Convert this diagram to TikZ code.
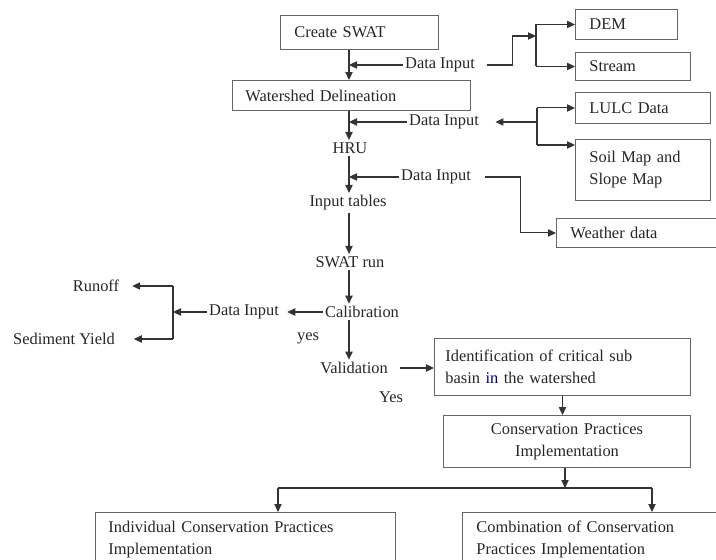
\documentclass[tikz,border=0pt]{standalone}
\usepackage{fontspec}
\setmainfont{Liberation Serif}
\usepackage{tikz}
\usetikzlibrary{arrows.meta,positioning,calc}
\tikzset{
  block/.style = {draw=black!60, line width=0.8pt, rectangle, anchor=north west,
                  align=left, inner xsep=0.42cm, inner ysep=0pt},
  lbl/.style   = {inner sep=2pt},
  wire/.style  = {line width=0.9pt, draw=black!80},
  sig/.style   = {-{Triangle[length=2.4mm,width=2.2mm]}, line width=0.9pt, draw=black!80},
}

\begin{document}
\begin{tikzpicture}[x=0.03cm,y=-0.03cm,font=\fontsize{14}{18.8}\selectfont,text=black!85]
\useasboundingbox (0,0) rectangle (716,560);

% boxes
\node[block,text width=3.9cm,minimum height=1.02cm] (create) at (280,15) {Create SWAT};
\node[block,text width=2.22cm,minimum height=0.9cm] (dem) at (575,9) {DEM};
\node[block,text width=2.61cm,minimum height=0.84cm] (stream) at (575,52) {Stream};
\node[block,text width=6.36cm,minimum height=0.9cm,inner xsep=0.39cm] (wshed) at (232,80) {Watershed Delineation};
\node[block,text width=3.21cm,minimum height=0.93cm] (lulc) at (575,92) {LULC Data};
\node[block,text width=3.21cm,minimum height=1.83cm] (soil) at (575,139) {Soil Map and\\Slope Map};
\node[block,text width=3.96cm,minimum height=0.87cm] (weather) at (556,218) {Weather data};
\node[block,text width=7.02cm,minimum height=1.71cm,inner xsep=0.33cm] (ident) at (434,338)
  {Identification of critical sub\\basin {\color{blue!45!black}in} the watershed};
\node[block,text width=6.57cm,minimum height=1.56cm,align=center] (cons) at (443,415)
  {Conservation Practices\\Implementation};
\node[block,text width=8.22cm,minimum height=1.62cm,inner xsep=0.39cm] (indiv) at (95,512)
  {Individual Conservation Practices\\Implementation};
\node[block,text width=7.26cm,minimum height=1.62cm] (combo) at (462,512)
  {Combination of Conservation\\Practices Implementation};

% plain labels
\node[lbl] (hru) at (350,148) {HRU};
\node[lbl] (intab) at (348,203) {Input tables};
\node[lbl] (run) at (350,262) {SWAT run};
\node[lbl] (calib) at (362,312) {Calibration};
\node[lbl] (valid) at (354,368) {Validation};
\node[lbl] (din1) at (440,65) {Data Input};
\node[lbl] (din2) at (444,122) {Data Input};
\node[lbl] (din3) at (436,177) {Data Input};
\node[lbl] (din4) at (244,312) {Data Input};
\node[lbl] (runoff) at (96,286) {Runoff};
\node[lbl] (sedi) at (64,339) {Sediment Yield};
\node[lbl] (yes1) at (308,338) {yes};
\node[lbl] (yes2) at (391,397) {Yes};

\coordinate (trunk) at (349,0);
\coordinate (fork1) at (536,36);
\coordinate (fork2) at (537,122);
\coordinate (fork2b) at (537,145);
\coordinate (fork4) at (173,312);
\coordinate (brL) at (278,488);
\coordinate (brC) at (565,488);
\coordinate (brR) at (652,488);

% main flow
\draw[sig] (create.south -| trunk) -- (wshed.north -| trunk);
\draw[sig] (wshed.south -| trunk) -- (hru.north -| trunk);
\draw[sig] (hru.south -| trunk) -- (intab.north -| trunk);
\draw[sig] (intab.south -| trunk) -- (run.north -| trunk);
\draw[sig] (run.south -| trunk) -- (calib.north -| trunk);
\draw[sig] (calib.south -| trunk) -- (valid.north -| trunk);

% data inputs
\draw[sig] (din1.west) -- (din1.west -| trunk);
\draw[sig,shorten <=8pt] (din1.east) -- ++(35,0) |- (fork1);
\draw[wire] (fork1 |- dem.west) -- (fork1 |- stream.west);
\draw[sig] (fork1 |- dem.west) -- (dem.west);
\draw[sig] (fork1 |- stream.west) -- (stream.west);

\draw[sig] (din2.west) -- (din2.west -| trunk);
\draw[sig,shorten >=12pt] (fork2) -- (din2.east);
\draw[wire] (fork2 |- lulc.west) -- (fork2b);
\draw[sig] (fork2 |- lulc.west) -- (lulc.west);
\draw[sig] (fork2b) -- (fork2b -| soil.west);

\draw[sig] (din3.west) -- (din3.west -| trunk);
\draw[sig,shorten <=10pt] (din3.east) -- ++(47,0) |- (weather.west);

\draw[sig,shorten >=5pt] (calib.west) -- (din4.east);
\draw[sig] (din4.west) -- (fork4);
\draw[wire] (fork4 |- runoff.east) -- (fork4 |- sedi.east);
\draw[sig,shorten >=9pt] (fork4 |- runoff.east) -- (runoff.east);
\draw[sig,shorten >=14pt] (fork4 |- sedi.east) -- (sedi.east);

% lower part
\draw[sig,shorten <=8pt] (valid.east) -- (valid.east -| ident.west);
\draw[sig] (ident.south) -- (ident.south |- cons.north);
\draw[sig] (cons.south -| brC) -- (brC);
\draw[wire] (brL) -- (brR);
\draw[sig] (brL) -- (brL |- indiv.north);
\draw[sig] (brR) -- (brR |- combo.north);
\end{tikzpicture}
\end{document}
